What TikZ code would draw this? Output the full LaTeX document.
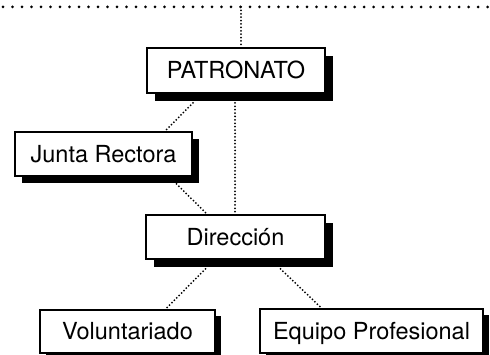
\documentclass[tikz,border=0pt]{standalone}
\usepackage{fontspec}
\setmainfont{TeX Gyre Heros}
\usetikzlibrary{shadows,calc}
\begin{document}
\begin{tikzpicture}[x=1pt,y=-1pt,
  orgbox/.style={draw=black, fill=white, line width=1.8pt, inner sep=0pt,
    font=\fontsize{23.5}{27}\selectfont, text height=16.8pt, text depth=0pt,
    general shadow={shadow xshift=#1, shadow yshift=-#1, fill=black}},
  conn/.style={line width=2pt, line cap=round, dash pattern=on 0pt off 3.4pt},
  topline/.style={line width=3pt, line cap=round, dash pattern=on 0pt off 9.5pt}]
\useasboundingbox (0,0) rectangle (490,355);

\node[orgbox=8pt, minimum width=178pt, minimum height=45pt] (pat) at (236,70.5) {PATRONATO};
\node[orgbox=7pt, minimum width=177pt, minimum height=44pt] (jr) at (103.5,154) {Junta Rectora};
\node[orgbox=8pt, minimum width=179pt, minimum height=44pt] (dir) at (235.5,237) {Dirección};
\node[orgbox=6pt, minimum width=175pt, minimum height=43pt] (vol) at (127.5,331.5) {Voluntariado};
\node[orgbox=6pt, minimum width=223pt, minimum height=44pt] (eq) at (371.5,331) {Equipo Profesional};

\coordinate (tl) at (3,7);
\coordinate (tr) at (490,7);
\coordinate (tc) at (241,7);
\draw[topline] (tl) -- (tr);
\draw[conn] (tc) -- (tc |- pat.north);

\draw[conn] ([xshift=-43pt,yshift=-9pt]pat.south) -- ([xshift=61.5pt]jr.north);
\draw[conn] ([xshift=-1pt,yshift=-9pt]pat.south) -- ([xshift=-0.5pt]dir.north);
\draw[conn] ([xshift=73pt,yshift=-7pt]jr.south) -- ([xshift=-28.5pt]dir.north);
\draw[conn] ([xshift=-30pt,yshift=-9pt]dir.south) -- ([xshift=38pt]vol.north);
\draw[conn] ([xshift=45pt,yshift=-9pt]dir.south) -- ([xshift=-50pt]eq.north);
\end{tikzpicture}
\end{document}
